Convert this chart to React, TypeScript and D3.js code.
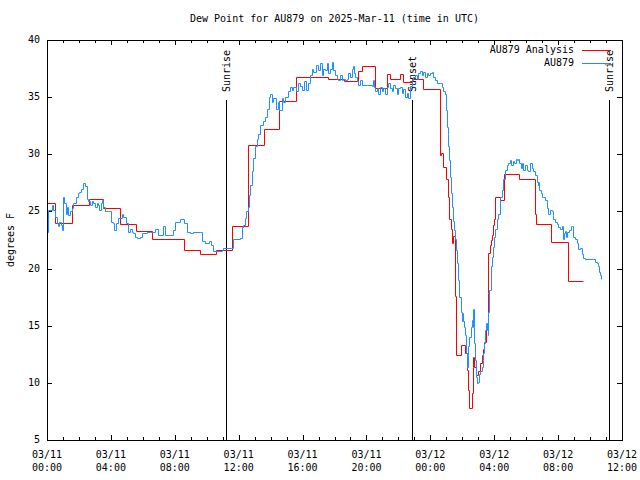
import React from "react";
import * as d3 from "d3";

const startUtc = Date.UTC(2025, 2, 11, 0, 0);
const spanHours = 36;
const yTickValues = [5, 10, 15, 20, 25, 30, 35, 40];
const titleText = "Dew Point for AU879 on 2025-Mar-11 (time in UTC)";
const yAxisLabel = "degrees F";
const seriesNames = ["AU879 Analysis", "AU879"];
const seriesColors = ["#ff0000", "#1e90ff"];
const sunEventHours = [11.21, 22.84, 35.21];
const sunEventLabels = ["Sunrise", "Sunset", "Sunrise"];

// Analysis (step) series: hours since 2025-03-11 00Z, dew point F
const analysisHours = [
  0.0, 0.5, 1.55, 2.65, 3.53, 4.57, 5.55, 6.56, 8.58, 9.61, 10.55, 11.58, 12.57, 13.56, 14.55, 15.59,
  17.61, 18.6, 19.47, 19.7, 20.54, 21.29, 21.48, 22.1, 22.27, 22.84, 23.53, 24.58, 24.67, 24.8, 24.98,
  25.11, 25.19, 25.28, 25.34, 25.44, 25.55, 25.61, 25.92, 26.17, 26.28, 26.38, 26.44, 26.59, 26.65,
  26.69, 26.76, 26.86, 26.97, 27.11, 27.22, 27.32, 27.38, 27.49, 27.6, 27.63, 27.74, 27.8, 27.88,
  27.95, 27.99, 28.05, 28.37, 28.62, 29.57, 30.56, 30.62, 31.56, 32.59, 33.54,
];
const analysisDewpF = [
  25.7, 24.0, 25.6, 26.1, 25.3, 23.9, 23.3, 22.6, 21.6, 21.3, 21.6, 23.7, 30.8, 32.2, 34.7, 36.8,
  36.6, 36.4, 37.3, 37.7, 35.8, 37.0, 36.6, 37.0, 36.3, 36.6, 35.7, 29.9, 30.1, 28.9, 27.8,
  26.3, 24.3, 23.5, 22.2, 22.85, 17.6, 12.4, 13.3, 12.6, 11.1, 9.4, 7.8, 9.1, 11.4,
  12.3, 11.4, 10.7, 11.0, 11.7, 12.4, 13.0, 13.6, 14.9, 17.9, 21.4, 22.1, 22.5, 22.9,
  23.8, 24.3, 26.3, 26.0, 28.3, 27.8, 24.8, 23.9, 22.3, 18.9, 18.9,
];

// Observed series
const obsHours = [
  0.0, 0.08, 0.29, 0.4, 0.5, 0.61, 0.71, 0.77, 0.86, 0.92, 0.98, 1.07, 1.19, 1.27, 1.34, 1.44, 1.54,
  1.65, 1.82, 1.92, 2.02, 2.13, 2.23, 2.38, 2.48, 2.59, 2.69, 2.8, 2.9, 3.01, 3.11, 3.21, 3.28, 3.36,
  3.42, 3.53, 3.63, 3.84, 3.99, 4.11, 4.2, 4.32, 4.47, 4.68, 4.78, 4.93, 5.09, 5.2, 5.3, 5.41, 5.51,
  5.62, 5.82, 5.93, 6.24, 6.45, 6.76, 6.97, 7.24, 7.39, 7.7, 7.91, 8.02, 8.33, 8.6, 8.75, 8.95, 9.16,
  9.58, 9.69, 9.89, 10.17, 10.25, 10.37, 10.94, 11.04, 11.55, 11.62, 12.09, 12.18, 12.29, 12.4, 12.46,
  12.57, 12.65, 12.71, 12.82, 12.92, 13.02, 13.13, 13.23, 13.34, 13.54, 13.65, 13.76, 13.9, 13.96,
  14.07, 14.17, 14.32, 14.45, 14.55, 14.7, 14.8, 14.9, 15.07, 15.22, 15.32, 15.42, 15.57, 15.7, 15.84,
  15.99, 16.11, 16.2, 16.32, 16.47, 16.57, 16.68, 16.83, 16.99, 17.09, 17.24, 17.3, 17.41, 17.51,
  17.61, 17.72, 17.83, 17.93, 18.03, 18.14, 18.24, 18.35, 18.45, 18.55, 18.66, 18.77, 18.87, 18.97,
  19.08, 19.18, 19.22, 19.29, 19.39, 19.49, 19.6, 19.71, 20.02, 20.33, 20.43, 20.48, 20.54, 20.64,
  20.75, 20.85, 20.96, 21.06, 21.16, 21.27, 21.37, 21.48, 21.58, 21.68, 21.79, 21.9, 22.0, 22.1,
  22.21, 22.31, 22.42, 22.52, 22.62, 22.73, 22.84, 22.94, 23.04, 23.15, 23.25, 23.36, 23.46, 23.56,
  23.67, 23.78, 23.88, 23.98, 24.09, 24.19, 24.3, 24.4, 24.61, 24.72, 24.81, 24.92, 24.97, 25.03,
  25.09, 25.13, 25.19, 25.23, 25.28, 25.34, 25.4, 25.48, 25.55, 25.61, 25.65, 25.72, 25.82, 25.9,
  25.97, 26.01, 26.03, 26.07, 26.13, 26.18, 26.24, 26.28, 26.32, 26.34, 26.38, 26.44, 26.53, 26.59,
  26.63, 26.66, 26.69, 26.74, 26.76, 26.8, 26.84, 26.91, 26.97, 27.05, 27.11, 27.22, 27.28, 27.32,
  27.38, 27.43, 27.47, 27.53, 27.6, 27.63, 27.7, 27.78, 27.85, 27.91, 27.99, 28.05, 28.16, 28.26,
  28.37, 28.47, 28.57, 28.68, 28.79, 28.89, 28.99, 29.05, 29.16, 29.24, 29.37, 29.45, 29.51, 29.57,
  29.66, 29.72, 29.82, 29.93, 30.04, 30.14, 30.24, 30.35, 30.45, 30.56, 30.66, 30.73, 30.76, 30.83,
  30.91, 30.98, 31.08, 31.18, 31.29, 31.33, 31.39, 31.5, 31.6, 31.67, 31.7, 31.81, 31.92, 32.02,
  32.12, 32.23, 32.29, 32.37, 32.44, 32.5, 32.58, 32.71, 32.79, 32.89, 32.96, 33.06, 33.17, 33.27,
  33.38, 33.48, 33.58, 33.69, 34.21, 34.31, 34.42, 34.52, 34.58, 34.63, 34.69,
];
const obsDewpF = [
  23.2, 25.1, 25.6, 25.1, 24.5, 24.0, 23.7, 24.1, 23.8, 23.4, 26.3, 25.7, 24.8, 25.4, 24.7, 25.0, 25.3,
  25.7, 26.3, 26.6, 26.7, 27.0, 27.5, 27.2, 26.1, 25.9, 25.6, 25.9, 25.7, 25.4, 25.7, 25.6, 25.1, 25.7,
  26.0, 25.4, 25.0, 25.0, 24.1, 24.0, 23.4, 24.0, 24.4, 24.8, 24.5, 24.0, 23.2, 23.5, 23.2, 23.1, 22.8,
  22.7, 22.8, 23.1, 23.2, 23.2, 23.5, 22.9, 23.7, 22.9, 22.9, 23.4, 24.1, 24.3, 24.0, 23.2, 23.1, 23.2,
  23.2, 22.4, 22.2, 22.4, 22.1, 21.5, 21.6, 21.8, 21.8, 22.6, 22.7, 23.6, 23.8, 24.4, 25.0,
  25.4, 26.4, 27.3, 28.5, 29.7, 30.7, 31.3, 31.8, 32.6, 32.9, 33.3, 34.0, 35.0, 35.3,
  34.6, 34.9, 34.0, 34.6, 33.9, 34.9, 34.6, 35.0, 35.5, 35.9, 35.6, 35.9, 35.5, 36.2, 36.0,
  35.6, 36.4, 35.6, 36.2, 36.9, 37.5, 37.2, 37.8, 37.4, 38.0, 36.9, 37.5, 37.4, 38.0,
  37.1, 37.5, 38.1, 37.4, 36.9, 36.6, 36.5, 36.9, 36.5, 36.6, 36.5, 36.6, 37.1, 36.8,
  37.5, 37.7, 37.1, 36.8, 36.4, 36.1, 36.5, 36.1, 36.1, 36.0, 36.5, 35.9, 35.5, 35.8,
  35.3, 35.9, 35.5, 35.8, 35.3, 35.9, 36.2, 35.8, 35.5, 36.1, 35.8, 35.3, 35.8, 35.9,
  35.4, 35.7, 35.0, 35.4, 34.9, 36.0, 36.5, 36.8, 36.9, 36.6, 37.1, 37.3, 36.9, 37.2,
  36.8, 37.1, 36.9, 37.1, 37.2, 36.8, 36.5, 36.2, 36.2, 35.9, 35.5, 35.3, 33.9, 32.4,
  31.8, 30.7, 29.5, 28.0, 26.6, 25.4, 24.2, 23.4, 22.6, 21.6, 20.5, 19.0, 17.5, 16.2,
  15.8, 15.4, 16.1, 15.4, 14.9, 14.2, 12.6, 11.7, 11.4, 12.4, 13.2, 14.0, 14.9, 15.2,
  15.5, 14.9, 16.5, 14.9, 13.5, 12.0, 10.5, 10.0, 10.1, 10.8, 11.0, 11.4, 12.0, 12.6,
  13.5, 14.6, 15.2, 14.6, 14.2, 16.2, 18.1, 20.2, 21.0, 21.9, 22.8, 23.5, 24.3, 24.8,
  26.3, 26.9, 27.8, 28.6, 29.1, 29.2, 29.5, 29.1, 29.4, 29.2, 29.6, 29.5, 29.6, 29.2,
  28.8, 29.2, 28.6, 29.1, 28.6, 28.5, 29.2, 28.8, 28.5, 28.2, 27.6, 27.3, 27.6, 26.9,
  26.6, 26.3, 26.3, 26.0, 25.8, 25.3, 24.8, 25.1, 25.0, 24.7, 24.3, 24.1, 23.9, 23.6,
  23.5, 23.7, 22.6, 23.1, 23.3, 22.8, 23.2, 23.4, 23.7, 23.7, 22.8, 22.6, 22.2, 21.7,
  21.8, 21.3, 20.9, 20.8, 20.8, 20.6, 20.5, 20.2, 19.7, 19.4, 19.1,
];

const toDate = (h: number) => new Date(startUtc + h * 3600 * 1000);

export default function App() {
  const left = 47, right = 622, top = 40, bottom = 440;
  const x = d3.scaleUtc().domain([toDate(0), toDate(spanHours)]).range([left, right]);
  const y = d3.scaleLinear().domain([5, 40]).range([bottom, top]);
  const px = (v: number) => Math.round(v) + 0.5;

  const line = d3
    .line<[number, number]>()
    .x((d) => px(x(toDate(d[0]))))
    .y((d) => px(y(d[1])))
    .curve(d3.curveStepAfter);

  const analysis: [number, number][] = analysisHours.map((h, i) => [h, analysisDewpF[i]]);
  const obs: [number, number][] = obsHours.map((h, i) => [h, obsDewpF[i]]);

  const majorTicks = x.ticks(d3.utcHour.every(4) as any);
  const minorTicks = x.ticks(d3.utcHour.every(1) as any);
  const fmtDay = d3.utcFormat("%m/%d");
  const fmtTime = d3.utcFormat("%H:%M");
  const majLen = 5, minLen = 3;

  const yGraph = (f: number) => bottom - f * (bottom - top);

  return (
    <svg
      width={640}
      height={480}
      style={{ position: "absolute", left: 0, top: 0, display: "block" }}
      fontFamily="'DejaVu Sans Mono', monospace"
      fontSize={10}
    >
      <rect x={0} y={0} width={640} height={480} fill="#ffffff" />
      <text x={(left + right) / 2} y={19} textAnchor="middle" dominantBaseline="middle" fill="#000">
        {titleText}
      </text>
      <text
        transform={`translate(11,${(top + bottom) / 2}) rotate(-90)`}
        textAnchor="middle"
        dominantBaseline="middle"
        fill="#000"
      >
        {yAxisLabel}
      </text>
      {yTickValues.map((v) => (
        <g key={"y" + v}>
          <line x1={left} x2={left + majLen} y1={px(y(v))} y2={px(y(v))} stroke="#000" shapeRendering="crispEdges" />
          <line x1={right - majLen} x2={right} y1={px(y(v))} y2={px(y(v))} stroke="#000" shapeRendering="crispEdges" />
          <text x={40} y={y(v)} textAnchor="end" dominantBaseline="middle" fill="#000">
            {v}
          </text>
        </g>
      ))}
      {minorTicks.map((t, i) => (
        <g key={"m" + i}>
          <line x1={px(x(t))} x2={px(x(t))} y1={bottom} y2={bottom - minLen} stroke="#000" shapeRendering="crispEdges" />
          <line x1={px(x(t))} x2={px(x(t))} y1={top} y2={top + minLen} stroke="#000" shapeRendering="crispEdges" />
        </g>
      ))}
      {majorTicks.map((t, i) => (
        <g key={"M" + i}>
          <line x1={px(x(t))} x2={px(x(t))} y1={bottom} y2={bottom - majLen} stroke="#000" shapeRendering="crispEdges" />
          <line x1={px(x(t))} x2={px(x(t))} y1={top} y2={top + majLen} stroke="#000" shapeRendering="crispEdges" />
          <text x={x(t)} y={455} textAnchor="middle" dominantBaseline="middle" fill="#000">
            {fmtDay(t)}
          </text>
          <text x={x(t)} y={468} textAnchor="middle" dominantBaseline="middle" fill="#000">
            {fmtTime(t)}
          </text>
        </g>
      ))}
      {sunEventHours.map((h, i) => {
        const sx = x(toDate(h));
        return (
          <g key={"s" + i}>
            <line x1={px(sx)} x2={px(sx)} y1={yGraph(0)} y2={yGraph(0.85)} stroke="#000" shapeRendering="crispEdges" />
            <text
              transform={`translate(${sx + 1},${yGraph(0.87)}) rotate(-90)`}
              textAnchor="start"
              dominantBaseline="middle"
              fill="#000"
            >
              {sunEventLabels[i]}
            </text>
          </g>
        );
      })}
      <path d={line(analysis) || ""} fill="none" stroke={seriesColors[0]} strokeWidth={1} />
      <path d={line(obs) || ""} fill="none" stroke={seriesColors[1]} strokeWidth={1} />
      {seriesNames.map((n, i) => (
        <g key={"l" + i}>
          <text x={574} y={50 + i * 13} textAnchor="end" dominantBaseline="middle" fill="#000">
            {n}
          </text>
          <line x1={582} x2={611} y1={50.5 + i * 13} y2={50.5 + i * 13} stroke={seriesColors[i]} />
        </g>
      ))}
      <rect
        x={left + 0.5}
        y={top + 0.5}
        width={right - left}
        height={bottom - top}
        fill="none"
        stroke="#000"
        shapeRendering="crispEdges"
      />
    </svg>
  );
}
